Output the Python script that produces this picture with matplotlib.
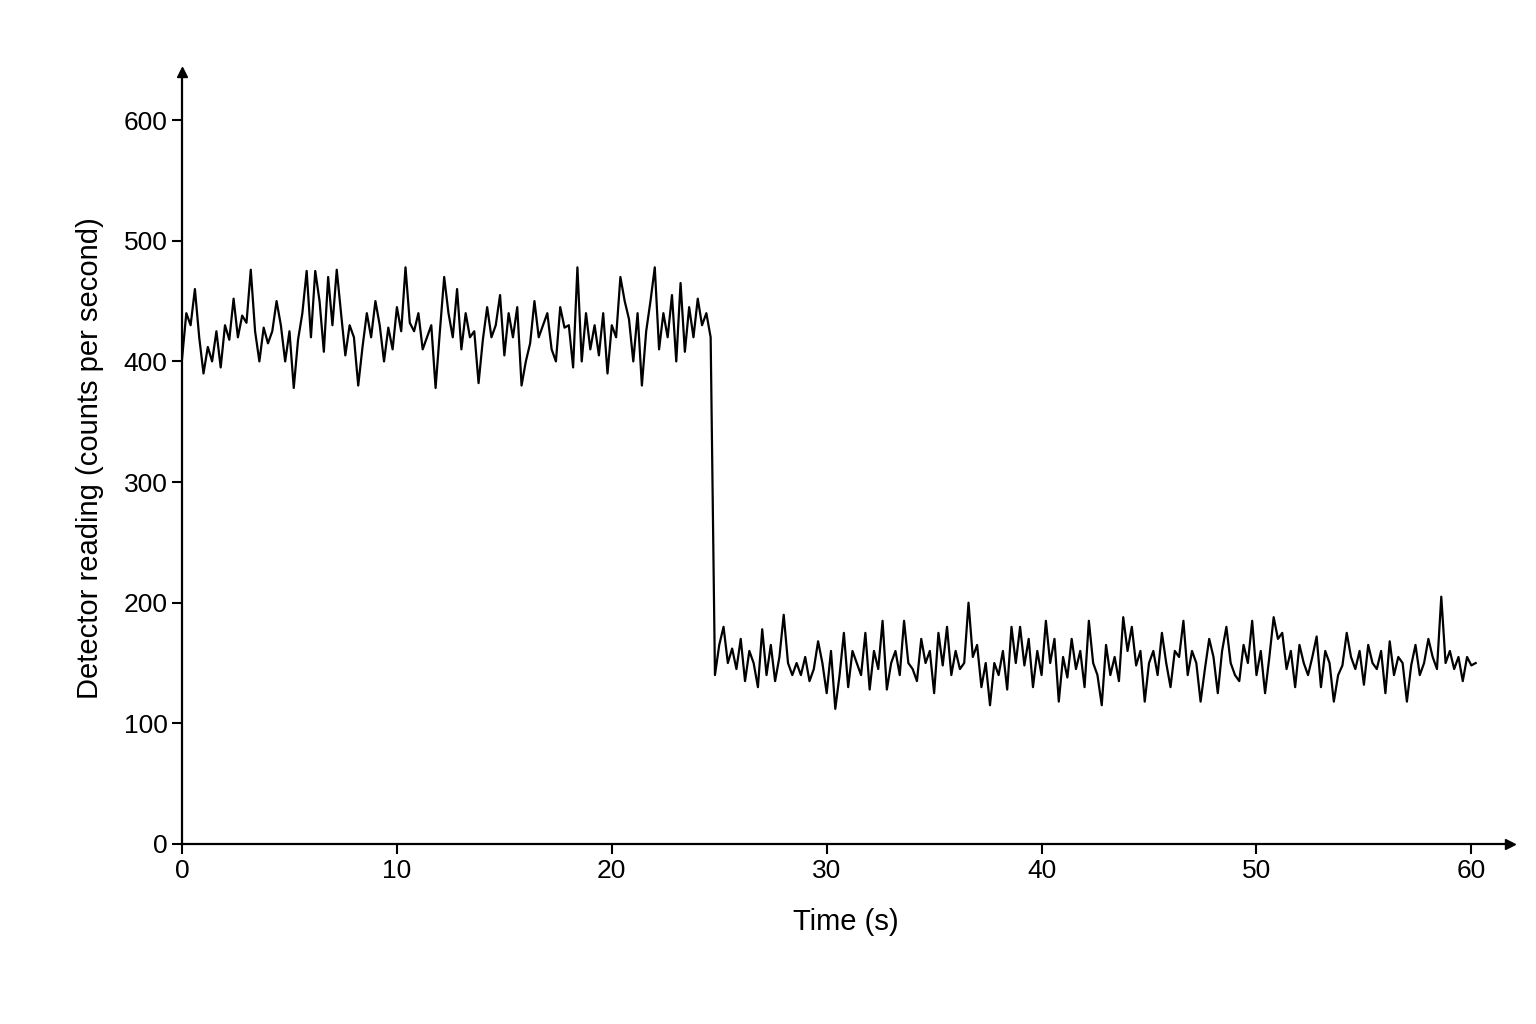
import numpy as np
import matplotlib
matplotlib.use("Agg")
import matplotlib.pyplot as plt

plt.rcParams['font.family'] = ['Liberation Sans', 'DejaVu Sans']

step = 0.2
high_values = [
 402,440,430,460,420,390,412,400,425,395,
 430,418,452,420,438,432,476,425,400,428,
 415,425,450,430,400,425,378,418,440,475,
 420,475,450,408,470,430,476,440,405,430,
 420,380,412,440,420,450,430,400,428,410,
 445,425,478,432,425,440,410,420,430,378,
 425,470,440,420,460,410,440,420,425,382,
 418,445,420,430,455,405,440,420,445,380,
 400,415,450,420,430,440,410,400,445,428,
 430,395,478,400,440,410,430,405,440,390,
 430,420,470,450,435,400,440,380,425,450,
 478,410,440,420,455,400,465,408,445,420,
 452,430,440,420]
low_values = [
 140,165,180,150,162,145,170,135,160,150,
 130,178,140,165,135,155,190,150,140,150,
 140,155,135,145,168,150,125,160,112,140,
 175,130,160,150,140,175,128,160,145,185,
 128,150,160,140,185,150,145,135,170,150,
 160,125,175,148,180,140,160,145,150,200,
 155,165,130,150,115,150,140,160,128,180,
 150,180,148,170,130,160,140,185,150,170,
 118,155,138,170,145,160,130,185,150,140,
 115,165,140,155,135,188,160,180,148,160,
 118,150,160,140,175,150,130,160,155,185,
 140,160,150,118,145,170,155,125,160,180,
 150,140,135,165,150,185,140,160,125,155,
 188,170,175,145,160,130,165,150,140,155,
 172,130,160,150,118,140,148,175,155,145,
 160,132,165,150,145,160,125,168,140,155,
 150,118,148,165,140,150,170,155,145,205,
 150,160,145,155,135,155,148,150]
values = high_values + low_values
times = np.arange(len(values)) * step

xticks = [0, 10, 20, 30, 40, 50, 60]
yticks = [0, 100, 200, 300, 400, 500, 600]

fig = plt.figure(figsize=(15.36, 10.24), dpi=100)
ax = fig.add_axes([0.1185, 0.1758, 0.8646, 0.754])
ax.plot(times, values, color='black', lw=1.6)
ax.set_xlim(0, 61.8)
ax.set_ylim(0, 640)
ax.set_xticks(xticks)
ax.set_yticks(yticks)
ax.tick_params(labelsize=19, length=7, width=1.5, direction='out', colors='black')
for s in ['top', 'right']:
    ax.spines[s].set_visible(False)
for s in ['left', 'bottom']:
    ax.spines[s].set_linewidth(1.6)
ax.plot(1, 0, '>k', transform=ax.transAxes, clip_on=False, ms=7)
ax.plot(0, 1, '^k', transform=ax.transAxes, clip_on=False, ms=7)
ax.set_xlabel('Time (s)', fontsize=21, labelpad=18)
ax.set_ylabel('Detector reading (counts per second)', fontsize=21, labelpad=14)
fig.savefig('out.png', dpi=100, facecolor='white')
